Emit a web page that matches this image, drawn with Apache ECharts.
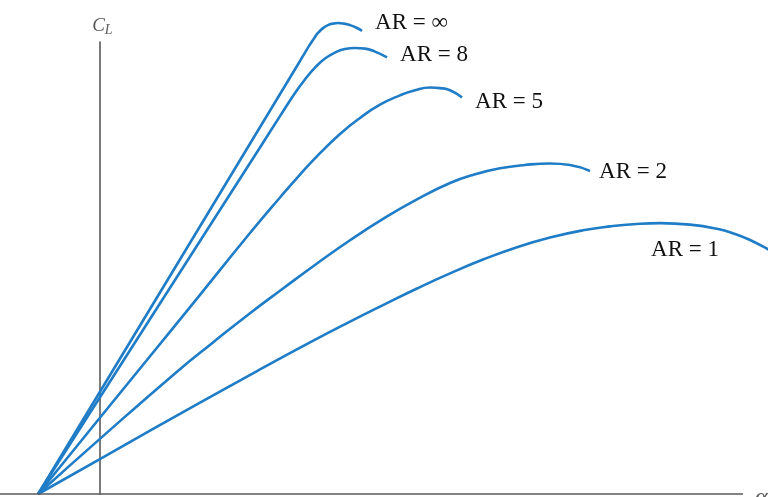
<!DOCTYPE html>
<html>
<head>
<meta charset="utf-8">
<style>
  html, body { margin: 0; padding: 0; background: #ffffff; }
  #chart { width: 768px; height: 497px; }
</style>
<script src="https://cdn.jsdelivr.net/npm/echarts@6/dist/echarts.min.js"></script>
</head>
<body>
<div id="chart"></div>
<script>
// Lift coefficient C_L versus angle of attack α (deg) for finite wings
// of various aspect ratios. Each curve is a list of [α, C_L] pairs.
const seriesNames = ['AR = ∞', 'AR = 8', 'AR = 5', 'AR = 2', 'AR = 1'];

const arInf = [
  [-1.98, 0], [1.605, 0.614], [6.410, 1.437], [6.570, 1.465], [6.730, 1.492],
  [6.858, 1.512], [6.986, 1.530], [7.146, 1.546], [7.306, 1.556], [7.466, 1.561],
  [7.627, 1.563], [7.819, 1.561], [8.011, 1.556], [8.203, 1.548], [8.396, 1.537]
];
const ar8 = [
  [-1.98, 0], [1.605, 0.581], [5.097, 1.145], [5.769, 1.254], [6.250, 1.331],
  [6.570, 1.376], [6.890, 1.415], [7.210, 1.445], [7.530, 1.465], [7.851, 1.477],
  [8.171, 1.480], [8.492, 1.478], [8.812, 1.468], [9.197, 1.449]
];
const ar5 = [
  [-1.98, 0], [0.00, 0.253], [1.605, 0.457], [3.206, 0.661], [4.808, 0.866],
  [5.769, 0.984], [6.410, 1.060], [7.050, 1.131], [7.691, 1.195], [8.331, 1.248],
  [8.972, 1.292], [9.613, 1.323], [10.094, 1.340], [10.574, 1.349], [10.894, 1.347],
  [11.215, 1.340], [11.599, 1.316]
];
const ar2 = [
  [-1.98, 0], [0.00, 0.183], [2.470, 0.406], [3.623, 0.503], [4.808, 0.600],
  [5.866, 0.682], [6.954, 0.765], [8.011, 0.842], [9.069, 0.913], [10.126, 0.976],
  [11.215, 1.032], [12.015, 1.061], [12.816, 1.081], [13.617, 1.092], [14.418, 1.097],
  [15.058, 1.092], [15.699, 1.072]
];
const ar1 = [
  [-1.98, 0], [0.00, 0.116], [1.605, 0.210], [3.206, 0.303], [5.033, 0.408],
  [6.730, 0.503], [8.011, 0.572], [9.069, 0.627], [10.158, 0.682], [11.215, 0.732],
  [12.272, 0.778], [13.361, 0.819], [14.418, 0.851], [15.475, 0.875], [16.340, 0.888],
  [17.301, 0.897], [17.941, 0.899], [18.902, 0.894], [19.767, 0.880], [20.344, 0.863],
  [20.824, 0.843], [21.400, 0.812], [21.785, 0.788]
];

// horizontal (α) axis drawn from the left edge to just short of the right edge
const alphaAxisRange = [-3.2, 20.6];

const curves = [arInf, ar8, ar5, ar2, ar1];
// [dx, dy] of each curve's name relative to the end of the curve
const endLabelOffsets = [[13, -8], [13, -2], [13, 5], [9, 1]];

const axisColor = '#5a5a5a';
const curveColor = '#1f7cc6';
const serif = '"Liberation Serif", "DejaVu Serif", serif';

const chart = echarts.init(document.getElementById('chart'), null, { renderer: 'canvas' });

const labelText = { fontFamily: serif, fontSize: 23, color: '#111111' };

const series = curves.map((data, i) => {
  const s = {
    name: seriesNames[i],
    type: 'line',
    data: data,
    smooth: 0.5,
    showSymbol: false,
    clip: false,
    silent: true,
    lineStyle: { color: curveColor, width: 2.6 },
    itemStyle: { color: curveColor }
  };
  if (i < endLabelOffsets.length) {
    s.endLabel = Object.assign({
      show: true,
      formatter: '{a}',
      distance: 0,
      offset: endLabelOffsets[i]
    }, labelText);
  } else {
    // label sits just under the crest of the curve
    s.markPoint = {
      symbol: 'circle',
      symbolSize: 0.1,
      silent: true,
      itemStyle: { color: 'rgba(0,0,0,0)' },
      data: [{ type: 'max', valueDim: 'y' }],
      label: Object.assign({
        show: true,
        formatter: '{a}',
        position: 'inside',
        offset: [25, 27]
      }, labelText)
    };
  }
  return s;
});

// the α axis line and its symbol
series[0].markLine = {
  silent: true,
  symbol: 'none',
  lineStyle: { color: axisColor, width: 1.6, type: 'solid' },
  label: {
    show: true,
    position: 'end',
    formatter: 'α',
    distance: 12,
    fontFamily: serif,
    fontStyle: 'italic',
    fontSize: 24,
    color: axisColor,
    align: 'left',
    verticalAlign: 'top',
    padding: [-8, 0, 0, 0]
  },
  data: [[{ coord: [alphaAxisRange[0], 0] }, { coord: [alphaAxisRange[1], 0] }]]
};

chart.setOption({
  backgroundColor: '#ffffff',
  animation: false,
  grid: { left: 0, right: 0, top: 42, bottom: 3, containLabel: false, outerBoundsMode: 'none' },
  xAxis: {
    type: 'value',
    min: -3.2,
    max: 21.4,
    axisLine: { show: false },
    axisTick: { show: false },
    axisLabel: { show: false },
    splitLine: { show: false }
  },
  yAxis: {
    type: 'value',
    min: 0,
    max: 1.5,
    name: '{c|C}{l|L}',
    nameLocation: 'end',
    nameGap: 5,
    nameTextStyle: {
      color: axisColor,
      padding: [0, 0, 0, 5],
      rich: {
        c: { fontFamily: serif, fontStyle: 'italic', fontSize: 19, color: axisColor, verticalAlign: 'top' },
        l: { fontFamily: serif, fontStyle: 'italic', fontSize: 14, color: axisColor, verticalAlign: 'bottom', padding: [7, 0, 0, 0] }
      }
    },
    axisLine: { show: true, onZero: true, lineStyle: { color: axisColor, width: 1.6 } },
    axisTick: { show: false },
    axisLabel: { show: false },
    splitLine: { show: false }
  },
  series: series
});
</script>
</body>
</html>
